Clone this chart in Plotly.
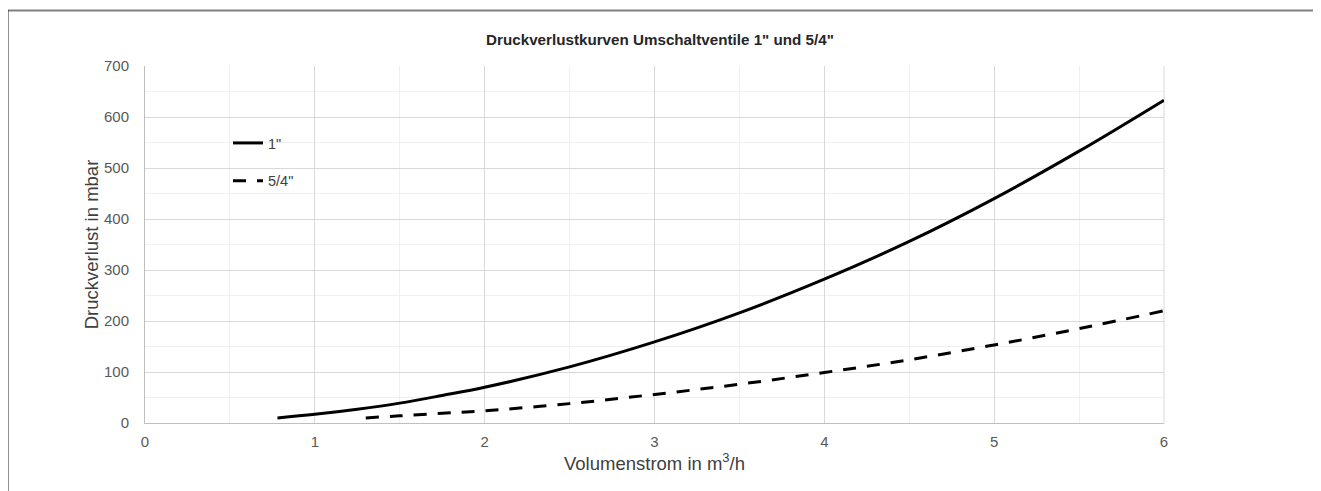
import plotly.graph_objects as go

# Data
x_1 = [0.78, 1.0, 1.25, 1.5, 1.75, 2.0, 2.5, 3.0, 3.5, 4.0, 4.5, 5.0, 5.5, 6.0]
y_1 = [10, 17, 27, 39, 54, 70, 110, 159, 216, 282, 356, 440, 533, 633]
x_54 = [1.3, 1.5, 1.75, 2.0, 2.5, 3.0, 3.5, 4.0, 4.5, 5.0, 5.5, 6.0]
y_54 = [10, 14, 19, 24, 38, 56, 76, 99, 124, 153, 185, 220]

title_text = 'Druckverlustkurven Umschaltventile 1" und 5/4"'
x_title = "Volumenstrom in m<sup>3</sup>/h"
y_title = "Druckverlust in mbar"
x_ticks = [0, 1, 2, 3, 4, 5, 6]
y_ticks = [0, 100, 200, 300, 400, 500, 600, 700]

fig = go.Figure()
fig.add_trace(go.Scatter(x=x_1, y=y_1, mode="lines", name='1"', legendgroup="a",
                         line=dict(color="black", width=3, shape="spline")))
fig.add_trace(go.Scatter(x=x_54, y=y_54, mode="lines", name='5/4"', legendgroup="b",
                         line=dict(color="black", width=3, dash="13px,11px", shape="spline")))

# page offset of the figure (body margin)
OFF = 8
W, H = 1321, 491
# target plot area in page pixels
PL, PR, PT, PB = 145, 1164, 66, 423
L = PL - OFF
T = PT - OFF
R = W - (PR - OFF)
B = H - (PB - OFF)
pw, ph = PR - PL, PB - PT

def px_x(p):
    return (p - PL) / pw

def px_y(p):
    return (PB - p) / ph

fig.update_layout(
    width=W, height=H,
    margin=dict(l=L, r=R, t=T, b=B),
    paper_bgcolor="white", plot_bgcolor="white",
    font=dict(family="Liberation Sans, Arial, sans-serif", color="#595959", size=15),
    title=dict(text="<b>" + title_text + "</b>", xref="paper", x=px_x(660), xanchor="center",
               y=1 - (40 - OFF) / H, yanchor="middle",
               font=dict(size=15.2, color="#262626")),
    showlegend=True,
    legend=dict(x=px_x(228), y=px_y(127), xanchor="left", yanchor="top",
                bgcolor="rgba(0,0,0,0)", font=dict(size=14.5, color="#404040"),
                tracegroupgap=16, itemwidth=30),
    xaxis=dict(range=[0, 6], tickvals=x_ticks, showgrid=True, gridcolor="#d9d9d9",
               gridwidth=1, minor=dict(dtick=0.5, showgrid=True, gridcolor="#f0f0f0"),
               showline=True, linecolor="#bfbfbf", linewidth=1, zeroline=False,
               ticks="", ticklabelstandoff=5, tickfont=dict(size=15, color="#595959"),
               title=dict(text=x_title, font=dict(size=18.5, color="#404040"), standoff=6)),
    yaxis=dict(range=[0, 700], tickvals=y_ticks, showgrid=True, gridcolor="#d9d9d9",
               gridwidth=1, minor=dict(dtick=50, showgrid=True, gridcolor="#f0f0f0"),
               showline=True, linecolor="#bfbfbf", linewidth=1, zeroline=False,
               ticks="", ticklabelstandoff=12, tickfont=dict(size=15, color="#595959"),
               title=dict(text=y_title, font=dict(size=18.5, color="#404040"), standoff=0)),
    shapes=[
        dict(type="line", xref="paper", yref="paper", x0=px_x(7), x1=px_x(W + 20),
             y0=px_y(10.5), y1=px_y(10.5), line=dict(color="#808080", width=2)),
        dict(type="line", xref="paper", yref="paper", x0=px_x(7.5), x1=px_x(7.5),
             y0=px_y(10), y1=px_y(H + 20), line=dict(color="#262626", width=2)),
        dict(type="line", xref="paper", yref="paper", x0=1, x1=1, y0=0, y1=1,
             line=dict(color="#d9d9d9", width=1), layer="below"),
    ],
)

fig.write_html("out.html")
